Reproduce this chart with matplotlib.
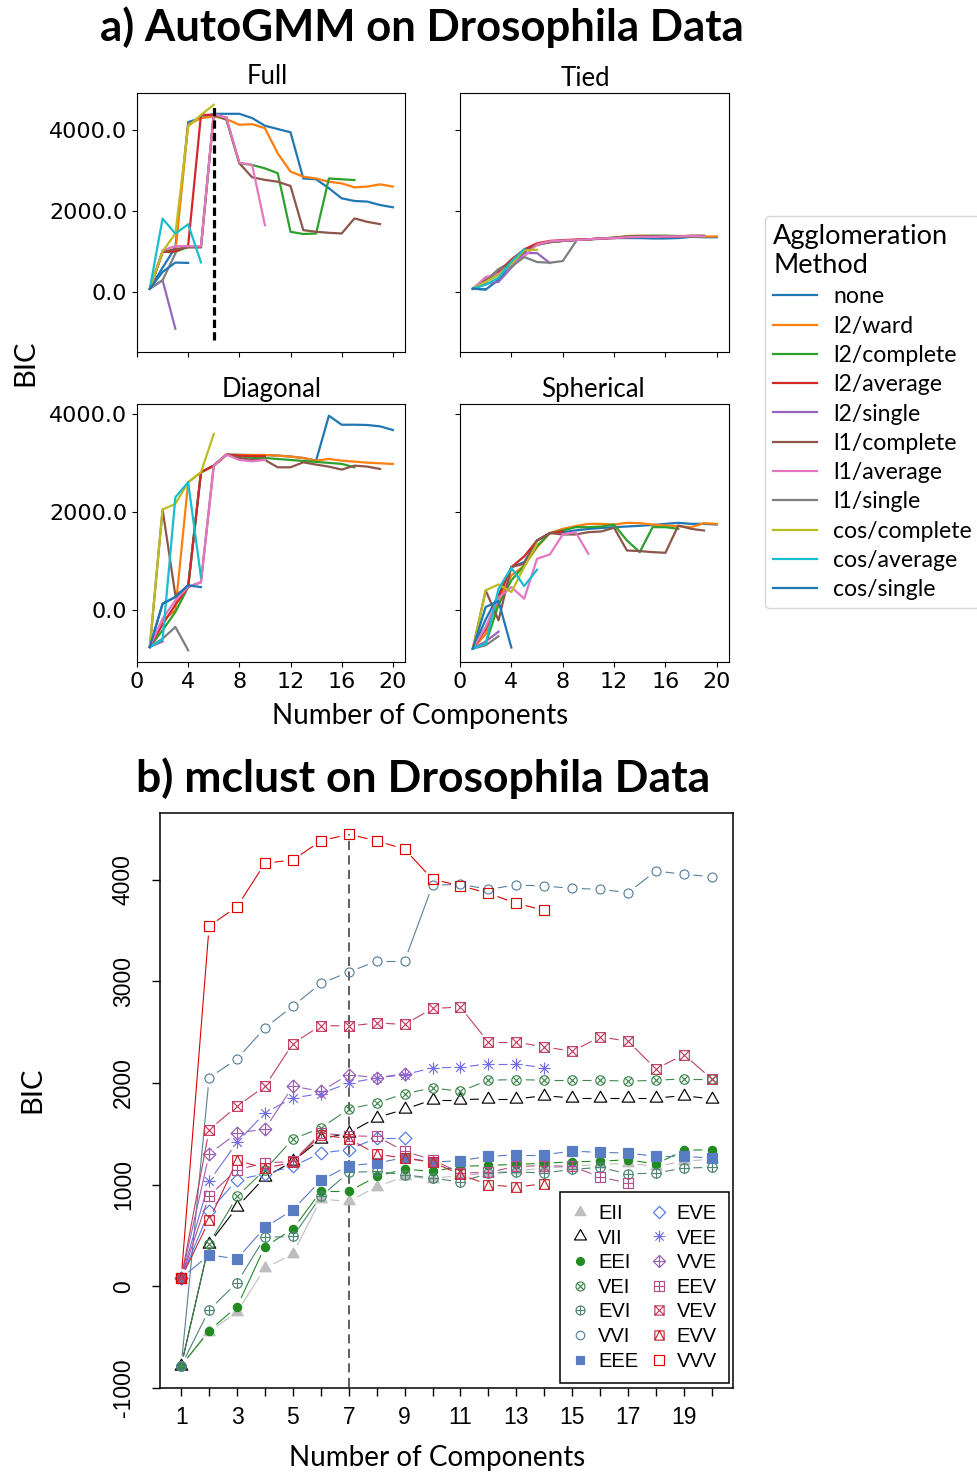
import numpy as np
import matplotlib
matplotlib.use("Agg")
import matplotlib.pyplot as plt
from matplotlib.path import Path
from matplotlib.lines import Line2D

W, H = 977, 1473

# ---------------- a) AutoGMM data (BIC per number of components) ----------------
methods = ["none", "l2/ward", "l2/complete", "l2/average", "l2/single",
           "l1/complete", "l1/average", "l1/single",
           "cos/complete", "cos/average", "cos/single"]

full_bic = [
    [80, 600, 1100, 4190, 4290, 4395, 4395, 4395, 4290, 4100, 4020, 3940, 2800, 2780, 2560, 2310, 2245, 2230, 2145, 2090],
    [80, 990, 990, 4124, 4290, 4330, 4264, 4124, 4140, 4040, 3420, 2970, 2845, 2800, 2720, 2680, 2580, 2600, 2655, 2600],
    [80, 990, 990, 1110, 1110, 4370, 4250, 3175, 3134, 3050, 2930, 1485, 1430, 1443, 2800, 2780, 2760],
    [80, 990, 1000, 1150, 4370, 4370, 4300],
    [80, 290, -907],
    [80, 990, 1060, 1100, 1100, 4395, 4250, 3175, 2830, 2765, 2720, 2615, 1525, 1485, 1460, 1443, 1815, 1730, 1675],
    [80, 1030, 1130, 1130, 1130, 4395, 4290, 3190, 3134, 1650],
    [80, 290, 950],
    [80, 1000, 1440, 4080, 4370, 4618],
    [80, 1810, 1440, 1670, 730],
    [80, 495, 726, 717],
]
full_best_k = 6
full_best_span = [-1190, 4618]

tied_bic = [
    [80, 60, 300, 700, 1000, 1170, 1230, 1260, 1280, 1300, 1320, 1330, 1330, 1330, 1320, 1320, 1330, 1360, 1350, 1350],
    [80, 250, 480, 750, 1020, 1180, 1240, 1270, 1290, 1300, 1320, 1340, 1380, 1390, 1380, 1370, 1380, 1380, 1370, 1370],
    [80, 260, 470, 740, 1000, 1170, 1230, 1260, 1280, 1300, 1320, 1340, 1370, 1380, 1390, 1390, 1380, 1370, 1380],
    [80, 300, 500, 800, 1050, 1200, 1260, 1280, 1290, 1300, 1320, 1330, 1350, 1360, 1370, 1370, 1370, 1380, 1380],
    [80, 200, 250, 600, 960, 960, 714],
    [80, 280, 560, 740, 1000, 1160, 1230, 1260, 1280, 1300, 1310, 1340, 1360, 1370, 1370, 1380, 1370, 1390, 1390],
    [80, 370, 450, 650, 880, 1170, 1250, 1270, 1280, 1300, 1320, 1330, 1350, 1360, 1360, 1370, 1370, 1380, 1370],
    [80, 250, 560, 620, 862, 739, 722, 763, 1231],
    [80, 250, 420, 700, 1030, 1040],
    [80, 180, 350, 750, 1060],
    [80, 66],
]

diag_bic = [
    [-762, 122, 258, 496, 2808, 2944, 3169, 3165, 3160, 3160, 3150, 3130, 3100, 3046, 3964, 3780, 3780, 3774, 3747, 3672],
    [-762, -218, -14, 2604, 2808, 2944, 3169, 3162, 3162, 3162, 3148, 3128, 3100, 3046, 3080, 3046, 3026, 3005, 2992, 2978],
    [-762, -420, -48, 462, 2808, 2944, 3169, 3140, 3100, 3100, 3080, 3060, 3040, 3020, 3000, 2980, 2910],
    [-762, -300, 100, 462, 2808, 2944, 3169, 3150, 3140, 3140],
    [-762, -650],
    [-762, 2047, 292, 462, 560, 2944, 3169, 3100, 3060, 3060, 2910, 2910, 3012, 2965, 2924, 2863, 2944, 2924, 2876],
    [-762, -184, 190, 462, 564, 2944, 3169, 3060, 3033, 3060],
    [-762, -592, -354, -830],
    [-762, 2047, 2162, 2604, 2808, 3590],
    [-762, -612, 2298, 2604, 666],
    [-762, 122, 258, 496, 462],
]

sph_bic = [
    [-796, -200, 300, 870, 972, 1414, 1564, 1584, 1620, 1650, 1670, 1686, 1700, 1714, 1730, 1754, 1775, 1754, 1754, 1740],
    [-796, -500, 200, 700, 900, 1278, 1564, 1652, 1707, 1754, 1754, 1740, 1775, 1768, 1740, 1720, 1707, 1686, 1768, 1754],
    [-796, -700, 100, 600, 900, 1300, 1564, 1618, 1686, 1686, 1700, 1740, 1414, 1176, 1686, 1686, 1652],
    [-796, -400, 250, 870, 1088, 1414, 1564, 1600],
    [-796, -650, -450],
    [-796, 394, -218, 870, 938, 1414, 1564, 1537, 1537, 1584, 1598, 1673, 1210, 1197, 1176, 1163, 1720, 1652, 1618],
    [-796, -354, 245, 462, 224, 1040, 1129, 1537, 1584, 1142],
    [-796, -728, -544],
    [-796, 394, 517, 360, 870, 1346],
    [-796, -694, 428, 857, 483, 816],
    [-796, 54, 177, -775],
]

# ---------------- b) mclust data ----------------
bic_EII = [-780, -450, -250, 178, 319, 858, 835, 980, 1081, 1060, 1090, 1110, 1140, 1160, 1180, 1200, 1210, 1180, 1230, 1250]
bic_VII = [-780, 418, 779, 1074, 1229, 1449, 1508, 1660, 1740, 1836, 1836, 1843, 1843, 1875, 1852, 1852, 1852, 1852, 1875, 1843]
bic_EEI = [-780, -436, -200, 391, 562, 933, 933, 1081, 1153, 1130, 1180, 1189, 1200, 1210, 1225, 1230, 1245, 1202, 1337, 1344]
bic_VEI = [-780, 420, 884, 1147, 1449, 1557, 1744, 1803, 1895, 1951, 1918, 2027, 2033, 2027, 2027, 2027, 2017, 2027, 2040, 2040]
bic_EVI = [-780, -232, 37, 483, 490, 884, 1120, 1130, 1097, 1064, 1027, 1110, 1125, 1115, 1150, 1170, 1105, 1114, 1163, 1170]
bic_VVI = [-780, 2050, 2237, 2542, 2756, 2979, 3090, 3199, 3199, 3944, 3954, 3905, 3947, 3937, 3914, 3905, 3872, 4085, 4052, 4029]
bic_EEE = [80, 309, 270, 579, 753, 1041, 1186, 1212, 1266, 1222, 1237, 1278, 1294, 1294, 1330, 1317, 1311, 1278, 1278, 1262]
bic_EVE = [80, 736, 1048, 1107, 1180, 1311, 1344, 1459, 1459]
bic_VEE = [80, 1032, 1416, 1705, 1853, 1895, 2000, 2049, 2082, 2148, 2155, 2187, 2187, 2148]
bic_VVE = [80, 1301, 1508, 1547, 1968, 1918, 2082, 2050, 2092]
bic_EEV = [80, 891, 1147, 1212, 1229, 1508, 1480, 1475, 1327, 1245, 1114, 1120, 1180, 1186, 1180, 1075, 1015]
bic_VEV = [80, 1540, 1771, 1968, 2388, 2565, 2559, 2591, 2575, 2733, 2746, 2401, 2401, 2355, 2312, 2453, 2411, 2138, 2279, 2040]
bic_EVV = [80, 648, 1238, 1163, 1219, 1491, 1450, 1300, 1260, 1220, 1100, 999, 976, 1009]
bic_VVV = [80, 3543, 3734, 4161, 4193, 4381, 4446, 4381, 4299, 4003, 3940, 3865, 3767, 3698]
mc_best_k = 7

mc_models = ["EII", "VII", "EEI", "VEI", "EVI", "VVI", "EEE",
             "EVE", "VEE", "VVE", "EEV", "VEV", "EVV", "VVV"]
mc_values = [bic_EII, bic_VII, bic_EEI, bic_VEI, bic_EVI, bic_VVI, bic_EEE,
             bic_EVE, bic_VEE, bic_VVE, bic_EEV, bic_VEV, bic_EVV, bic_VVV]
mc_colors = ["#BEBEBE", "black", "#218B21", "#41884F", "#508476", "#58819C", "#597DC3",
             "#5178EA", "#716EE7", "#9B60B8", "#B2508B", "#C03F60", "#C82A36", "#DD0000"]

# ---------------- marker shapes (R pch look-alikes) ----------------
MOVE, LINE, CLOSE = Path.MOVETO, Path.LINETO, Path.CLOSEPOLY


def seg_path(pairs):
    verts, codes = [], []
    for a, b in pairs:
        verts += [a, b]
        codes += [MOVE, LINE]
    return Path(verts, codes)


d = 0.7071
circ = Path.unit_circle()
square = Path([(-1, -1), (1, -1), (1, 1), (-1, 1), (-1, -1)], [MOVE, LINE, LINE, LINE, CLOSE])
diamond = Path([(0, -1), (1, 0), (0, 1), (-1, 0), (0, -1)], [MOVE, LINE, LINE, LINE, CLOSE])
tri = Path([(0, 1), (-0.866, -0.5), (0.866, -0.5), (0, 1)], [MOVE, LINE, LINE, CLOSE])
plus1 = seg_path([((-1, 0), (1, 0)), ((0, -1), (0, 1))])
xcirc = seg_path([((-d, -d), (d, d)), ((-d, d), (d, -d))])
xsq = seg_path([((-1, -1), (1, 1)), ((-1, 1), (1, -1))])
tri_in = Path([(-1, -1), (0, 1), (1, -1)], [MOVE, LINE, LINE])
comp = Path.make_compound_path

# (marker, filled, size in points)
mc_marks = [
    (tri, True, 9.5), (tri, False, 10.5), ("o", True, 6.0), (comp(circ, xcirc), False, 6.8),
    (comp(circ, plus1), False, 6.8), ("o", False, 6.5), ("s", True, 6.8),
    (diamond, False, 9.2), (comp(plus1, xcirc), False, 8.8), (comp(diamond, plus1), False, 9.2),
    (comp(square, plus1), False, 7.0), (comp(square, xsq), False, 7.0),
    (comp(square, tri_in), False, 7.0), ("s", False, 7.2),
]

# ---------------- figure ----------------
fig = plt.figure(figsize=(W / 100, H / 100), dpi=100)
label_font = "Lato"


def rect(l, t, r, b):
    return [l / W, 1 - b / H, (r - l) / W, (b - t) / H]


def fpos(x, y):
    return x / W, 1 - y / H


ax_full = fig.add_axes(rect(137, 93, 405, 352))
ax_tied = fig.add_axes(rect(460, 93, 729, 352), sharex=ax_full, sharey=ax_full)
ax_diag = fig.add_axes(rect(137, 404, 405, 662), sharex=ax_full)
ax_sph = fig.add_axes(rect(460, 404, 729, 662), sharex=ax_full, sharey=ax_diag)

for ax, data in [(ax_full, full_bic), (ax_tied, tied_bic), (ax_diag, diag_bic), (ax_sph, sph_bic)]:
    for vals in data:
        ax.plot(np.arange(1, len(vals) + 1), vals, lw=1.6)

ax_full.plot([full_best_k, full_best_k], full_best_span, color="black",
             ls=(0, (2.6, 1.3)), lw=2.3)

ax_full.set_xlim(0, 20.95)
for ax in [ax_full, ax_tied, ax_diag, ax_sph]:
    ax.set_xticks([0, 4, 8, 12, 16, 20])
    ax.set_yticks([0, 2000, 4000])
    ax.yaxis.set_major_formatter(matplotlib.ticker.FormatStrFormatter("%.1f"))
    ax.tick_params(labelsize=16)
ax_full.tick_params(labelbottom=False)
ax_tied.tick_params(labelbottom=False, labelleft=False)
ax_sph.tick_params(labelleft=False)

for txt, x, y in [("Full", 267, 77), ("Tied", 585, 79), ("Diagonal", 272, 389), ("Spherical", 593, 389)]:
    fig.text(*fpos(x, y), txt, ha="center", va="center", fontsize=18.5, family=label_font)

fig.text(*fpos(422, 27), "a) AutoGMM on Drosophila Data", ha="center", va="center",
         fontsize=31.5, fontweight="bold", family=label_font)
fig.text(*fpos(25, 363), "BIC", ha="center", va="center", rotation=90, fontsize=21, family=label_font)
fig.text(*fpos(420, 716), "Number of Components", ha="center", va="center", fontsize=20, family=label_font)

leg = fig.legend(ax_full.get_lines()[:len(methods)], methods, title="Agglomeration\nMethod",
                 loc="upper left", bbox_to_anchor=fpos(765, 216), borderaxespad=0,
                 prop={"family": label_font, "size": 16.6},
                 title_fontproperties={"family": label_font, "size": 19.5},
                 alignment="left", labelspacing=0.36, handlelength=1.9, handletextpad=0.7,
                 borderpad=0.35)

# ---------------- b) mclust panel ----------------
ax_b = fig.add_axes(rect(160, 813, 733, 1388))
all_vals = np.concatenate([np.array(v, dtype=float) for v in mc_values])
lo, hi = all_vals.min(), all_vals.max()
ax_b.set_xlim(1 - 0.04 * 19, 20 + 0.04 * 19)
ax_b.set_ylim(lo - 0.04 * (hi - lo), hi + 0.04 * (hi - lo))


def gapped_lines(ax, xs, ys, color, gap=9.5):
    pts = ax.transData.transform(np.column_stack([xs, ys]))
    inv = ax.transData.inverted()
    for p0, p1 in zip(pts[:-1], pts[1:]):
        dv = p1 - p0
        length = np.hypot(*dv)
        if length <= 2 * gap:
            continue
        u = dv / length
        a = inv.transform(p0 + u * gap)
        b = inv.transform(p1 - u * gap)
        ax.plot([a[0], b[0]], [a[1], b[1]], color=color, lw=0.8, solid_capstyle="butt")


vvv_peak = max(bic_VVV)
ax_b.plot([mc_best_k, mc_best_k], [ax_b.get_ylim()[0], vvv_peak], color="#333333",
          lw=1.1, ls=(0, (6, 3.5)))

handles = []
for vals, col, (mk, filled, ms) in zip(mc_values, mc_colors, mc_marks):
    xs = np.arange(1, len(vals) + 1)
    gapped_lines(ax_b, xs, vals, col)
    fc = col if filled else "none"
    ax_b.plot(xs, vals, ls="none", marker=mk, ms=ms, mfc=fc, mec=col, mew=0.85)
    handles.append(Line2D([], [], ls="none", marker=mk, ms=ms * 0.95, mfc=fc, mec=col, mew=0.85))

for sp in ax_b.spines.values():
    sp.set_linewidth(1.1)
ax_b.set_xticks(np.arange(1, 21), [str(i) if i % 2 else "" for i in range(1, 21)],
                fontsize=16.5, family="Liberation Sans")
ax_b.set_yticks(np.arange(-1000, 5000, 1000), [str(v) for v in range(-1000, 5000, 1000)],
                fontsize=16.5, family="Liberation Sans", rotation=90, va="center")
ax_b.tick_params(direction="out", length=6, width=1, pad=7)
ax_b.tick_params(axis="y", pad=12)

legb = ax_b.legend(handles, mc_models, ncol=2, loc="lower right", bbox_to_anchor=(0.993, 0.009),
                   borderaxespad=0, fancybox=False, edgecolor="black", framealpha=1,
                   prop={"family": "Liberation Sans", "size": 14.5},
                   handlelength=0.8, handletextpad=0.5, columnspacing=0.6,
                   labelspacing=0.28, borderpad=0.6)
legb.get_frame().set_linewidth(1.1)

fig.text(*fpos(423, 778), "b) mclust on Drosophila Data", ha="center", va="center",
         fontsize=32, fontweight="bold", family=label_font)
fig.text(*fpos(32, 1090), "BIC", ha="center", va="center", rotation=90, fontsize=21, family=label_font)
fig.text(*fpos(437, 1458), "Number of Components", ha="center", va="center", fontsize=20, family=label_font)

fig.savefig("out.png", dpi=100)
